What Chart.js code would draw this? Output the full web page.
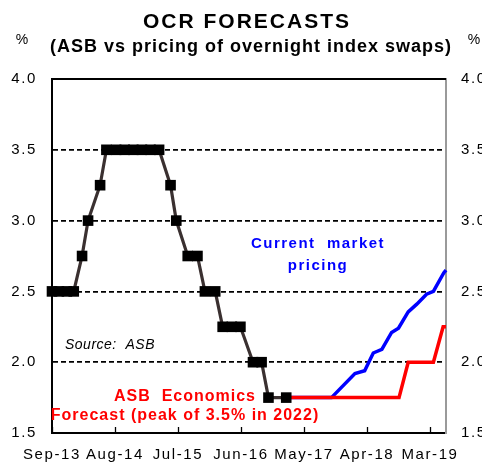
<!DOCTYPE html>
<html>
<head>
<meta charset="utf-8">
<script src="https://cdn.jsdelivr.net/npm/chart.js@4"></script>
<style>
  html, body { margin: 0; padding: 0; background: #fff; }
  #wrap { width: 482px; height: 462px; position: relative; }
</style>
</head>
<body>
<div id="wrap"><canvas id="c" width="482" height="462"></canvas></div>
<script>
// ---- data (x = months since Sep-2013) ----
const tickMonths = [0, 11, 22, 33, 44, 55, 66];
const tickLabels = ['Sep-13', 'Aug-14', 'Jul-15', 'Jun-16', 'May-17', 'Apr-18', 'Mar-19'];

const ocrMonths = [0, 1.2, 2.6, 3.8, 5.25, 6.3, 8.4, 9.5, 11.2, 12.7, 14.2, 15.7, 17.2, 18.7,
                   20.7, 21.7, 23.7, 25.4, 26.7, 28.5, 29.8, 31.4, 32.9, 35.1, 36.6, 37.8, 40.9];
const ocrValues = [2.5, 2.5, 2.5, 2.5, 2.75, 3.0, 3.25, 3.5, 3.5, 3.5, 3.5, 3.5, 3.5, 3.5,
                   3.25, 3.0, 2.75, 2.75, 2.5, 2.5, 2.25, 2.25, 2.25, 2.0, 2.0, 1.75, 1.75];

const asbMonths = [40.9, 60.6, 62.2, 66.6, 68.3, 68.8];
const asbValues = [1.75, 1.75, 2.0, 2.0, 2.25, 2.25];

const mktMonths = [40.9, 48.8, 52.9, 54.6, 56.1, 57.6, 59.3, 60.5, 62.2, 63.7, 65.4, 66.6, 68.4, 68.8];
const mktValues = [1.75, 1.75, 1.92, 1.94, 2.065, 2.09, 2.21, 2.24, 2.355, 2.41, 2.48, 2.50, 2.63, 2.65];

const yMin = 1.5, yMax = 4.0, yStep = 0.5;
const xMax = 68.8;

const pts = (xs, ys) => xs.map((x, i) => ({ x: x, y: ys[i] }));
const FONT = "'Liberation Sans', Arial, sans-serif";

const spacingPlugin = {
  id: 'spacing',
  beforeLayout(chart) { chart.ctx.letterSpacing = '1.6px'; },
  beforeDraw(chart) { chart.ctx.letterSpacing = '1.6px'; }
};

const decorPlugin = {
  id: 'decor',
  beforeDatasetsDraw(chart) {
    const ctx = chart.ctx, a = chart.chartArea;
    const xs = chart.scales.x;
    ctx.save();
    // inward tick marks on x axis
    ctx.strokeStyle = '#000';
    ctx.lineWidth = 1.3;
    tickMonths.forEach(m => {
      const px = Math.round(xs.getPixelForValue(m)) + 0.5;
      ctx.beginPath();
      ctx.moveTo(px, a.bottom);
      ctx.lineTo(px, a.bottom - 6);
      ctx.stroke();
    });
    // top border
    ctx.lineWidth = 2;
    ctx.beginPath();
    ctx.moveTo(a.left, a.top);
    ctx.lineTo(a.right, a.top);
    ctx.stroke();
    ctx.restore();
  },
  afterDraw(chart) {
    const ctx = chart.ctx;
    ctx.save();
    ctx.textAlign = 'center';
    ctx.textBaseline = 'middle';
    ctx.fillStyle = '#000';
    ctx.letterSpacing = '2px';
    ctx.font = 'bold 21px ' + FONT;
    ctx.fillText('OCR FORECASTS', 247, 22);
    ctx.letterSpacing = '1px';
    ctx.font = 'bold 18px ' + FONT;
    ctx.fillText('(ASB vs pricing of overnight index swaps)', 251, 47);
    ctx.letterSpacing = '0px';
    ctx.font = '14px ' + FONT;
    ctx.fillText('%', 22, 40);
    ctx.fillText('%', 474, 40);

    // annotations
    ctx.fillStyle = '#0000ff';
    ctx.letterSpacing = '1.5px';
    ctx.font = 'bold 15px ' + FONT;
    ctx.fillText('Current  market', 318, 244);
    ctx.fillText('pricing', 318, 266);

    ctx.fillStyle = '#000';
    ctx.letterSpacing = '0.5px';
    ctx.font = 'italic 14px ' + FONT;
    ctx.textAlign = 'left';
    ctx.fillText('Source:  ASB', 65, 345);

    ctx.textAlign = 'center';
    ctx.fillStyle = '#ff0000';
    ctx.letterSpacing = '1px';
    ctx.font = 'bold 16px ' + FONT;
    ctx.fillText('ASB  Economics', 185, 397);
    ctx.fillText('Forecast (peak of 3.5% in 2022)', 185, 416);
    ctx.restore();
  }
};

new Chart(document.getElementById('c'), {
  type: 'line',
  data: {
    datasets: [
      {
        label: 'OCR',
        data: pts(ocrMonths, ocrValues),
        borderColor: '#3a3030',
        borderWidth: 3.2,
        pointStyle: 'rect',
        pointRadius: 7.5,
        pointBackgroundColor: '#000',
        pointBorderColor: '#000',
        pointBorderWidth: 0,
        tension: 0,
        clip: false
      },
      {
        label: 'ASB Economics',
        data: pts(asbMonths, asbValues),
        borderColor: '#ff0000',
        borderWidth: 3.5,
        pointRadius: 0,
        tension: 0,
        clip: false
      },
      {
        label: 'Current market pricing',
        data: pts(mktMonths, mktValues),
        borderColor: '#0000ff',
        borderWidth: 3.5,
        pointRadius: 0,
        tension: 0,
        clip: false
      }
    ]
  },
  options: {
    responsive: false,
    animation: false,
    events: [],
    layout: { padding: { top: 79, left: 0, right: 0, bottom: 0 } },
    plugins: { legend: { display: false }, tooltip: { enabled: false }, title: { display: false } },
    scales: {
      x: {
        type: 'linear',
        min: 0,
        max: xMax,
        afterBuildTicks(scale) { scale.ticks = tickMonths.map(v => ({ value: v })); },
        afterFit(scale) { scale.height = 29; },
        ticks: {
          autoSkip: false,
          maxRotation: 0,
          minRotation: 0,
          padding: 13,
          color: '#000',
          font: { family: FONT, size: 15 },
          callback(v) { const i = tickMonths.indexOf(v); return i >= 0 ? tickLabels[i] : ''; }
        },
        grid: { display: false, drawTicks: false },
        border: { display: true, color: '#000', width: 2 }
      },
      y: {
        position: 'left',
        min: yMin,
        max: yMax,
        afterFit(scale) { scale.width = 52; },
        ticks: {
          stepSize: yStep,
          padding: 15,
          color: '#000',
          font: { family: FONT, size: 15 },
          callback(v) { return Number(v).toFixed(1); }
        },
        grid: {
          drawTicks: false,
          color(c) { return (c.tick && (c.tick.value === yMin || c.tick.value === yMax)) ? 'rgba(0,0,0,0)' : '#000'; },
          lineWidth: 1.7
        },
        border: { display: true, color: '#000', width: 2, dash: [5, 3] }
      },
      y2: {
        position: 'right',
        min: yMin,
        max: yMax,
        afterFit(scale) { scale.width = 36; },
        ticks: {
          stepSize: yStep,
          padding: 15,
          color: '#000',
          font: { family: FONT, size: 15 },
          callback(v) { return Number(v).toFixed(1); }
        },
        grid: { display: false, drawTicks: false },
        border: { display: true, color: '#9a9a9a', width: 2 }
      }
    }
  },
  plugins: [spacingPlugin, decorPlugin]
});
</script>
</body>
</html>
